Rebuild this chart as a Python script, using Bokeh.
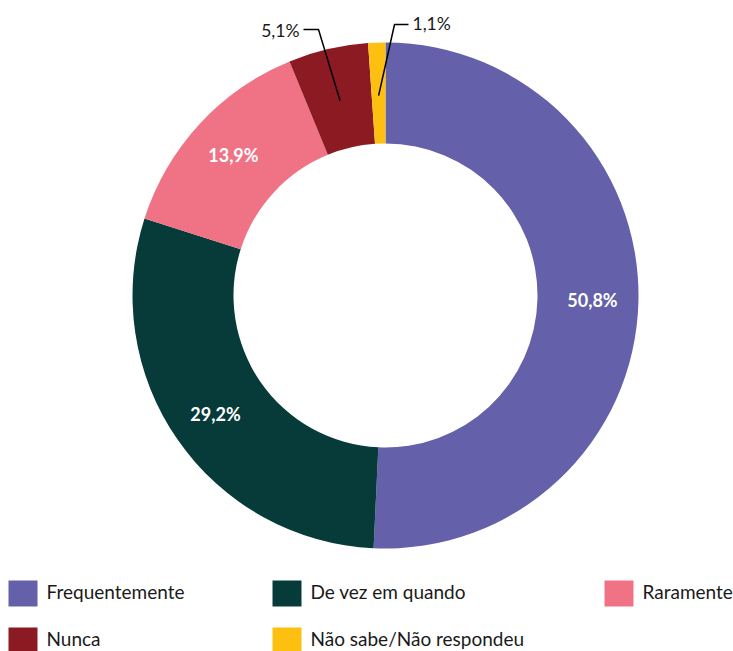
import math
from bokeh.plotting import figure
from bokeh.models import Range1d
from bokeh.core.properties import value
from bokeh.embed import file_html
from bokeh.resources import INLINE

categories = ["Frequentemente", "De vez em quando", "Raramente", "Nunca", "Não sabe/Não respondeu"]
values = [50.8, 29.2, 13.9, 5.1, 1.1]
labels = ["50,8%", "29,2%", "13,9%", "5,1%", "1,1%"]
colors = ["#6460AA", "#073B3A", "#F07385", "#8B1A22", "#FDC010"]

W, H = 733, 651
p = figure(width=W, height=H, output_backend="svg", toolbar_location=None,
           x_range=Range1d(0, W), y_range=Range1d(0, H), min_border=0)
p.axis.visible = False
p.grid.visible = False
p.outline_line_color = None
p.background_fill_color = "white"
p.border_fill_color = "white"

def sy(y):  # screen y -> data y
    return H - y

cx, cy = 385, sy(295)
r_in, r_out = 152, 253
total = sum(values)
start = math.pi / 2
starts, ends, mids = [], [], []
for v in values:
    a = v / total * 2 * math.pi
    starts.append(start - a)
    ends.append(start)
    mids.append(start - a / 2)
    start -= a

p.annular_wedge(x=[cx] * len(values), y=[cy] * len(values), inner_radius=r_in, outer_radius=r_out,
                start_angle=starts, end_angle=ends, fill_color=colors, line_color=None)

font = value("Lato")
# inside labels
r_lab = 207
for i in range(3):
    x = cx + r_lab * math.cos(mids[i])
    y = cy + r_lab * math.sin(mids[i])
    p.text(x=[x], y=[y], text=[labels[i]], text_color="white", text_font=font,
           text_font_size="18px", text_font_style="bold", text_align="center", text_baseline="middle")

# callouts
r_pt = 200
# Nunca
i = 3
ax, ay = cx + r_pt * math.cos(mids[i]), cy + r_pt * math.sin(mids[i])
p.line(x=[ax, 318, 303], y=[ay, sy(29), sy(29)], line_color="black", line_width=1.5)
p.text(x=[299], y=[sy(30)], text=[labels[i]], text_color="#1a1a1a", text_font=font,
       text_font_size="17.5px", text_align="right", text_baseline="middle")
# Nao sabe
i = 4
ax, ay = cx + r_pt * math.cos(mids[i]), cy + r_pt * math.sin(mids[i])
p.line(x=[ax, 394, 408], y=[ay, sy(24), sy(24)], line_color="black", line_width=1.5)
p.text(x=[412], y=[sy(23)], text=[labels[i]], text_color="#1a1a1a", text_font=font,
       text_font_size="17.5px", text_align="left", text_baseline="middle")

# legend
leg_x = [8, 272, 604, 8, 272]
leg_y = [591, 591, 591, 638, 638]
for i in range(len(categories)):
    p.rect(x=[leg_x[i] + 14.5], y=[sy(leg_y[i] + 2)], width=29, height=26, fill_color=colors[i], line_color=None)
    p.text(x=[leg_x[i] + 38], y=[sy(leg_y[i])], text=[categories[i]], text_color="#1a1a1a",
           text_font=font, text_font_size="19px", text_align="left", text_baseline="middle")

open("out.html", "w").write(file_html(p, INLINE))
